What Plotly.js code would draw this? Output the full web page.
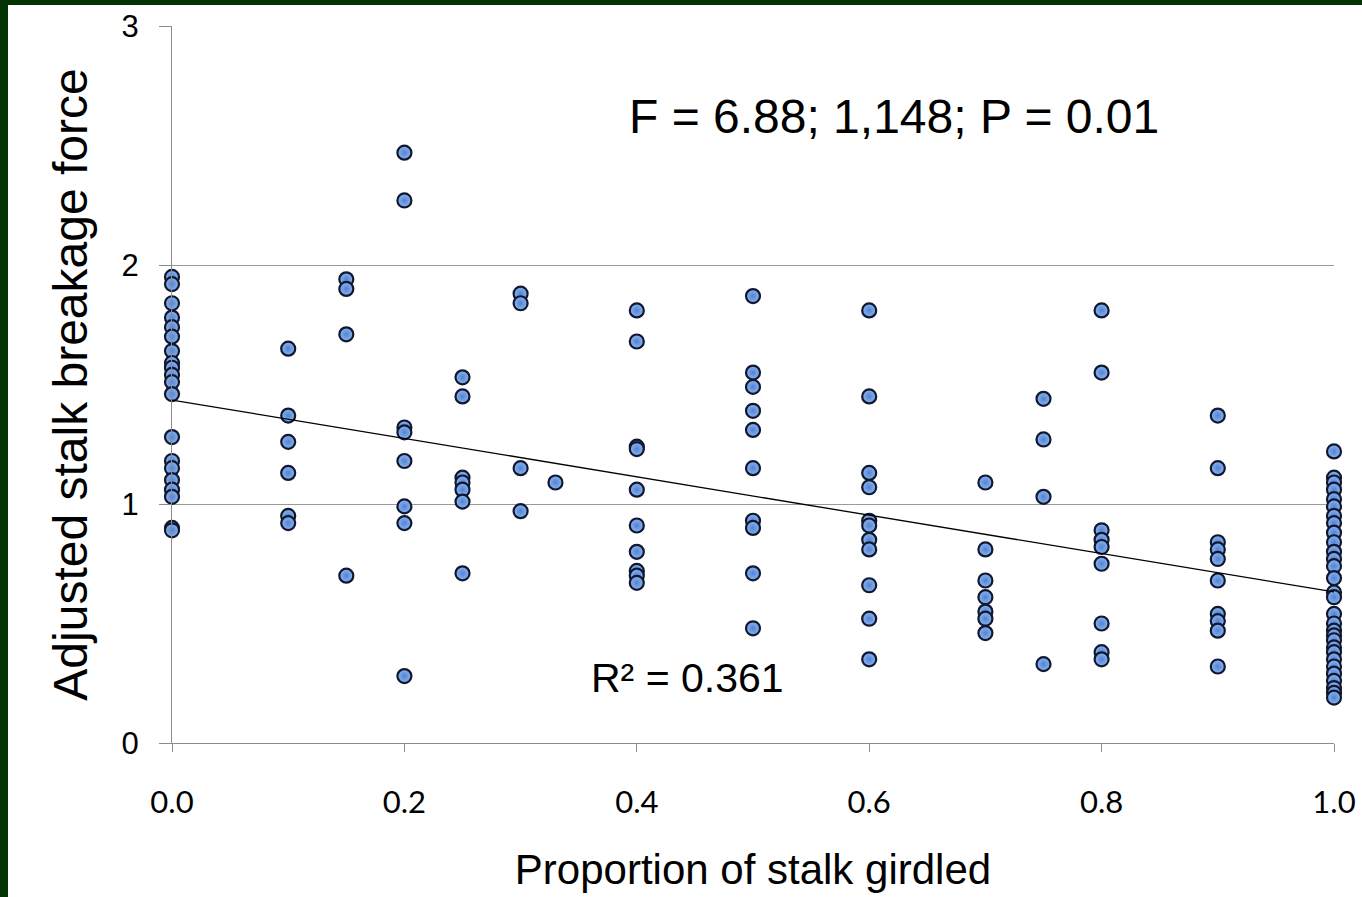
<!DOCTYPE html>
<html>
<head>
<meta charset="utf-8">
<script src="https://cdn.plot.ly/plotly-3.0.1.min.js"></script>
<style>
html,body{margin:0;padding:0;background:#ffffff;width:1362px;height:897px;overflow:hidden;}
#chart{position:absolute;left:0;top:0;width:1362px;height:897px;}
#bl{position:absolute;left:0;top:0;width:8px;height:897px;background:#033203;}
#bt{position:absolute;left:0;top:0;width:1362px;height:5px;background:#033203;}
</style>
</head>
<body>
<div id="chart"></div>
<div id="bl"></div><div id="bt"></div>
<script>
// Proportion of stalk girdled -> adjusted breakage force values
const girdleLevels = [0.0, 0.1, 0.15, 0.2, 0.25, 0.3, 0.33, 0.4, 0.5, 0.6, 0.7, 0.75, 0.8, 0.9, 1.0];
const force_000 = [1.95, 1.92, 1.84, 1.78, 1.74, 1.70, 1.64, 1.59, 1.57, 1.54, 1.51, 1.46, 1.28, 1.18, 1.15, 1.10, 1.06, 1.03, 0.90, 0.89];
const force_010 = [1.65, 1.37, 1.26, 1.13, 0.95, 0.92];
const force_015 = [1.94, 1.90, 1.71, 0.70];
const force_020 = [2.47, 2.27, 1.32, 1.30, 1.18, 0.99, 0.92, 0.28];
const force_025 = [1.53, 1.45, 1.11, 1.09, 1.06, 1.01, 0.71];
const force_030 = [1.88, 1.84, 1.15, 0.97];
const force_033 = [1.09];
const force_040 = [1.81, 1.68, 1.24, 1.23, 1.06, 0.91, 0.80, 0.72, 0.70, 0.67];
const force_050 = [1.87, 1.55, 1.49, 1.39, 1.31, 1.15, 0.93, 0.90, 0.71, 0.48];
const force_060 = [1.81, 1.45, 1.13, 1.07, 0.93, 0.91, 0.85, 0.81, 0.66, 0.52, 0.35];
const force_070 = [1.09, 0.81, 0.68, 0.61, 0.55, 0.52, 0.46];
const force_075 = [1.44, 1.27, 1.03, 0.33];
const force_080 = [1.81, 1.55, 0.89, 0.85, 0.82, 0.75, 0.50, 0.38, 0.35];
const force_090 = [1.37, 1.15, 0.84, 0.81, 0.77, 0.68, 0.54, 0.51, 0.47, 0.32];
const force_100 = [1.22, 1.11, 1.09, 1.06, 1.02, 0.99, 0.95, 0.92, 0.88, 0.84, 0.80, 0.77, 0.74, 0.69, 0.63, 0.61, 0.54, 0.50, 0.47, 0.45, 0.43, 0.40, 0.38, 0.35, 0.32, 0.29, 0.26, 0.23, 0.21, 0.19];
const forceByLevel = [force_000, force_010, force_015, force_020, force_025, force_030, force_033, force_040, force_050, force_060, force_070, force_075, force_080, force_090, force_100];

// Linear trend line (as drawn): value at x=0 and x=1
const trendX = [0, 1];
const trendY = [1.435, 0.632];

const xTicks = [0, 0.2, 0.4, 0.6, 0.8, 1.0];
const xTickText = ["0.0", "0.2", "0.4", "0.6", "0.8", "1.0"];
const yTicks = [0, 1, 2, 3];
const yTickText = ["0", "1", "2", "3"];

const statsText = "F = 6.88; 1,148; P = 0.01";
const r2Text = "R² = 0.361";

const xs = [], ys = [];
girdleLevels.forEach((g, i) => {
  forceByLevel[i].forEach(v => { xs.push(g); ys.push(v); });
});

const points = {
  x: xs, y: ys, type: 'scatter', mode: 'markers', cliponaxis: false,
  marker: {size: 14, color: '#8ab6f4', gradient: {type: 'radial', color: '#5582d0'},
           line: {color: '#101830', width: 2.2}},
  hoverinfo: 'x+y', showlegend: false
};
const trend = {
  x: trendX, y: trendY, type: 'scatter', mode: 'lines', cliponaxis: false,
  line: {color: '#000', width: 1.3}, hoverinfo: 'skip', showlegend: false
};

const layout = {
  width: 1362, height: 897,
  margin: {l: 172, r: 28, t: 26, b: 154},
  paper_bgcolor: '#ffffff', plot_bgcolor: '#ffffff',
  font: {family: 'Liberation Sans, Arial, sans-serif', color: '#000'},
  xaxis: {
    range: [0, 1], tickvals: xTicks, ticktext: xTickText,
    showgrid: false, zeroline: false,
    showline: true, linecolor: '#8c8c8c', linewidth: 1,
    ticks: 'outside', ticklen: 8, tickcolor: '#8c8c8c', tickwidth: 1,
    ticklabelstandoff: 24,
    tickfont: {family: 'Lato, Carlito, sans-serif', size: 31, color: '#000'},
    title: {text: 'Proportion of stalk girdled', font: {size: 42, family: 'Liberation Sans, Arial, sans-serif'}, standoff: 35},
    fixedrange: true
  },
  yaxis: {
    range: [0, 3], tickvals: yTicks, ticktext: yTickText,
    showgrid: true, gridcolor: '#9a9a9a', gridwidth: 1, zeroline: false,
    showline: true, linecolor: '#8c8c8c', linewidth: 1,
    ticks: 'outside', ticklen: 12, tickcolor: '#8c8c8c', tickwidth: 1,
    ticklabelstandoff: 14,
    tickfont: {size: 31, family: 'Liberation Sans, Arial, sans-serif', color: '#000'},
    title: {text: 'Adjusted stalk breakage force', font: {size: 48, family: 'Liberation Sans, Arial, sans-serif'}, standoff: 18},
    fixedrange: true
  },
  annotations: [
    {text: statsText, xref: 'paper', yref: 'y', x: 0.621, y: 2.62, showarrow: false,
     font: {size: 48, family: 'Liberation Sans, Arial, sans-serif', color: '#000'}, xanchor: 'center', yanchor: 'middle'},
    {text: r2Text, xref: 'paper', yref: 'y', x: 0.444, y: 0.27, showarrow: false,
     font: {size: 41, family: 'Liberation Sans, Arial, sans-serif', color: '#000'}, xanchor: 'center', yanchor: 'middle'}
  ]
};

Plotly.newPlot('chart', [points, trend], layout, {displayModeBar: false, staticPlot: true});
</script>
</body>
</html>
